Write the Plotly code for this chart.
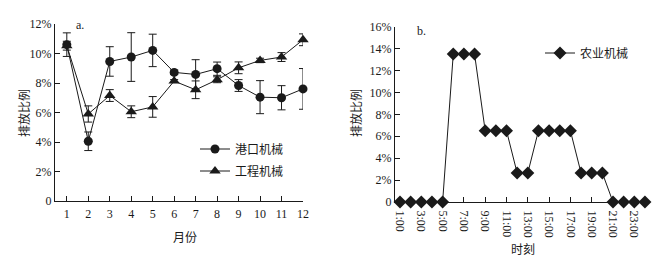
import plotly.graph_objects as go

months = list(range(1, 13))
port = [10.6, 4.05, 9.46, 9.76, 10.21, 8.72, 8.58, 8.97, 7.83, 7.04, 7.0, 7.6]
port_err = [0.8, 0.63, 1.0, 1.65, 1.1, 0.15, 1.0, 0.45, 0.4, 1.12, 0.82, 1.38]
eng = [10.53, 5.9, 7.15, 6.05, 6.38, 8.13, 7.54, 8.22, 9.03, 9.53, 9.76, 10.93]
eng_err = [0.3, 0.55, 0.4, 0.4, 0.7, 0.1, 0.6, 0.2, 0.4, 0.15, 0.3, 0.4]

hours = list(range(1, 25))
agri = [0, 0, 0, 0, 0, 13.5, 13.5, 13.5, 6.5, 6.5, 6.5, 2.65, 2.65,
        6.5, 6.5, 6.5, 6.5, 2.65, 2.65, 2.65, 0, 0, 0, 0]
hour_ticks = list(range(1, 25, 2))
hour_labels = [f"{h}:00" for h in hour_ticks]

FONT = "Liberation Serif, Noto Sans CJK SC"
CJK = "Noto Sans CJK SC, Liberation Serif"
C = "#1a1a1a"
OFF = 8  # page body margin
W, H = 671 - OFF, 266 - OFF


def px(x):
    return (x - OFF) / W


def py(y):
    return 1 - (y - OFF) / H


fig = go.Figure()
fig.add_trace(go.Scatter(
    x=months, y=port, name="港口机械", mode="lines+markers", cliponaxis=False,
    line=dict(color=C, width=1), marker=dict(symbol="circle", size=9, color=C),
    error_y=dict(type="data", array=port_err, color=C, thickness=1, width=4),
    xaxis="x", yaxis="y", legend="legend", showlegend=True))
fig.add_trace(go.Scatter(
    x=months, y=eng, name="工程机械", mode="lines+markers", cliponaxis=False,
    line=dict(color=C, width=1), marker=dict(symbol="triangle-up", size=10, color=C),
    error_y=dict(type="data", array=eng_err, color=C, thickness=1, width=4),
    xaxis="x", yaxis="y", legend="legend3", showlegend=True))
fig.add_trace(go.Scatter(
    x=hours, y=agri, name="农业机械", mode="lines+markers", cliponaxis=False,
    line=dict(color=C, width=1), marker=dict(symbol="diamond", size=10, color=C),
    xaxis="x2", yaxis="y2", legend="legend2", showlegend=True))

axis_common = dict(showline=True, linecolor=C, linewidth=1, ticks="inside",
                   ticklen=5, tickcolor=C, showgrid=False, zeroline=False,
                   automargin=False,
                   tickfont=dict(family=FONT, size=12, color=C))

leg_common = dict(xanchor="left", yanchor="middle", bgcolor="rgba(0,0,0,0)",
                  font=dict(family=CJK, size=12, color=C), visible=True)


def ann(text, x, y, font, angle=0, xanchor="center"):
    return dict(text=text, x=px(x), y=py(y), xref="paper", yref="paper",
                xanchor=xanchor, yanchor="middle", showarrow=False,
                textangle=angle, font=dict(family=font, size=12, color=C))


fig.update_layout(
    width=W, height=H, margin=dict(l=0, r=0, t=0, b=0),
    paper_bgcolor="white", plot_bgcolor="white", showlegend=True,
    font=dict(family=FONT, size=12, color=C),
    xaxis=dict(domain=[px(55), px(303)], range=[0.45, 12], tickvals=months,
               anchor="y", ticklabelstandoff=2, **axis_common),
    yaxis=dict(domain=[py(201), py(24)], range=[0, 12], tickvals=[0, 2, 4, 6, 8, 10, 12],
               ticktext=["0", "2%", "4%", "6%", "8%", "10%", "12%"], anchor="x",
               **axis_common),
    xaxis2=dict(domain=[px(395), px(649)], range=[0.53, 24.38], tickvals=hour_ticks,
                ticktext=hour_labels, tickangle=90, anchor="y2", ticklabelstandoff=5,
                **axis_common),
    yaxis2=dict(domain=[py(202), py(26.7)], range=[0, 16], tickvals=list(range(0, 17, 2)),
                ticktext=["0"] + [f"{v}%" for v in range(2, 17, 2)], anchor="x2",
                **axis_common),
    legend=dict(x=px(195), y=py(149), **leg_common),
    legend3=dict(x=px(195), y=py(171), **leg_common),
    legend2=dict(x=px(540), y=py(53), **leg_common),
    annotations=[
        ann("a.", 74, 25, FONT, xanchor="left"),
        ann("b.", 415, 31, FONT, xanchor="left"),
        ann("排放比例", 23, 113, CJK, angle=-90),
        ann("排放比例", 355, 113, CJK, angle=-90),
        ann("月份", 185, 236, CJK),
        ann("时刻", 523, 248, CJK),
    ],
)

fig.write_html("out.html")
